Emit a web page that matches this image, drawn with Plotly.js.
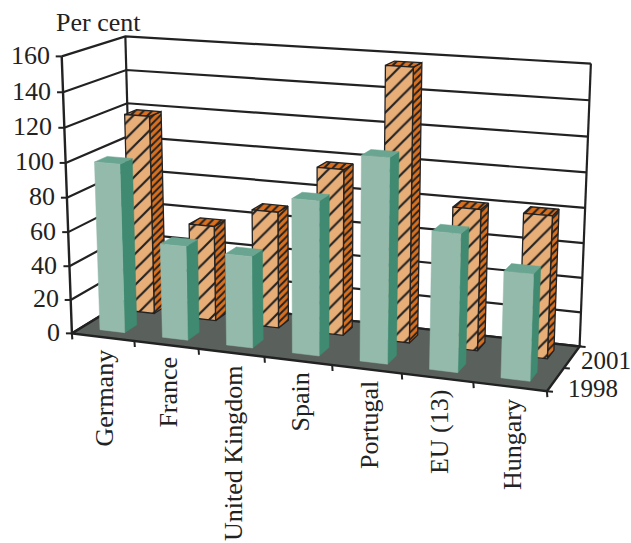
<!DOCTYPE html>
<html>
<head>
<meta charset="utf-8">
<script src="https://cdn.plot.ly/plotly-3.0.1.min.js"></script>
<style>html,body{margin:0;padding:0;background:#fff}#chart{width:631px;height:543px}</style>
</head>
<body>
<div id="chart"></div>
<script>
// Per cent values by country for the two survey years
const countries = ["Germany", "France", "United Kingdom", "Spain", "Portugal", "EU (13)", "Hungary"];
const years = ["1998", "2001"];
const values1998 = [99, 55, 53, 88, 115, 77, 59];
const values2001 = [119, 57, 69, 97, 157, 81, 81];
const valueTicks = [0, 20, 40, 60, 80, 100, 120, 140, 160];
const valueMax = 160;

// Camera calibration: box coordinates [u, v, h] and where they land on the page
const calibration = [
  [0,0,0,73,332],[1/7,0,0,134,340],[2/7,0,0,199,348],[3/7,0,0,264,357],[4/7,0,0,332,365],
  [5/7,0,0,401,374],[6/7,0,0,473,383],[1,0,0,548,393],
  [0,0,.25,70,266],[0,0,.5,67,197],[0,0,.75,64,128],[0,0,1,61,57],
  [0,1,0,132,300],[0,1,.5,129,169],[0,1,.75,127,102],[0,1,1,126,36],
  [1,1,0,579,344],[1,1,.25,583,277],[1,1,.5,585,207],[1,1,.75,588,137],[1,1,1,591,65]
];

// Least-squares fit of a projective camera x = (a·p)/(w·p)
function fitCamera(rows) {
  const n = 11, A = Array.from({length:n}, () => new Array(n + 1).fill(0));
  const add = (r, t) => {
    for (let i = 0; i < n; i++) {
      for (let j = 0; j < n; j++) A[i][j] += r[i] * r[j];
      A[i][n] += r[i] * t;
    }
  };
  rows.forEach(([u, v, h, x, y]) => {
    add([1,u,v,h,0,0,0,0,-x*u,-x*v,-x*h], x);
    add([0,0,0,0,1,u,v,h,-y*u,-y*v,-y*h], y);
  });
  for (let c = 0; c < n; c++) {
    let p = c;
    for (let r = c + 1; r < n; r++) if (Math.abs(A[r][c]) > Math.abs(A[p][c])) p = r;
    [A[c], A[p]] = [A[p], A[c]];
    for (let r = 0; r < n; r++) {
      if (r === c) continue;
      const f = A[r][c] / A[c][c];
      for (let k = c; k <= n; k++) A[r][k] -= f * A[c][k];
    }
  }
  return A.map((row, i) => row[n] / row[i]);
}
const cam = fitCamera(calibration);
function project(u, v, h) {
  const w = 1 + cam[8]*u + cam[9]*v + cam[10]*h;
  return [(cam[0] + cam[1]*u + cam[2]*v + cam[3]*h) / w,
          (cam[4] + cam[5]*u + cam[6]*v + cam[7]*h) / w];
}

// Path helpers: each path is appended to x/y arrays, separated by gaps
function pathSet() { return {x: [], y: []}; }
function addPath(set, pts, close) {
  pts.forEach(p => { set.x.push(p[0]); set.y.push(p[1]); });
  if (close) { set.x.push(pts[0][0]); set.y.push(pts[0][1]); }
  set.x.push(null); set.y.push(null);
}
const nCat = countries.length, gap = 0.3;

function barFaces(vals, row) {
  const front = pathSet(), side = pathSet(), top = pathSet();
  const v0 = (row + gap) / years.length, v1 = (row + 1 - gap) / years.length;
  vals.forEach((val, i) => {
    const u0 = (i + gap) / nCat, u1 = (i + 1 - gap) / nCat, h = val / valueMax;
    addPath(front, [project(u0,v0,0), project(u1,v0,0), project(u1,v0,h), project(u0,v0,h)], true);
    addPath(side,  [project(u1,v0,0), project(u1,v1,0), project(u1,v1,h), project(u1,v0,h)], true);
    addPath(top,   [project(u0,v0,h), project(u1,v0,h), project(u1,v1,h), project(u0,v1,h)], true);
  });
  return {front, side, top};
}

// Walls, gridlines and axis frame
const grid = pathSet(), frame = pathSet(), ticks = pathSet(), floor = pathSet();
valueTicks.forEach(t => {
  const h = t / valueMax;
  addPath(grid, [project(0,0,h), project(0,1,h), project(1,1,h)]);
  const p = project(0,0,h);
  addPath(ticks, [[p[0]-6, p[1]], p]);
});
addPath(grid, [project(0,1,0), project(0,1,1)]);
addPath(grid, [project(1,1,0), project(1,1,1)]);
addPath(floor, [project(0,0,0), project(1,0,0), project(1,1,0), project(0,1,0)], true);
addPath(frame, [project(0,0,1), project(0,0,0), project(1,0,0), project(1,1,0), project(0,1,0), project(0,0,0)]);
for (let i = 0; i <= nCat; i++) {
  const p = project(i / nCat, 0, 0);
  addPath(ticks, [p, [p[0]+0.4, p[1]+6]]);
}
for (let r = 0; r <= years.length; r++) {
  const p = project(1, r / years.length, 0);
  addPath(ticks, [p, [p[0]+6, p[1]+0.6]]);
}

const ink = "#222222";
const line = (s, width) => ({x: s.x, y: s.y, mode: "lines", line: {color: ink, width}, hoverinfo: "skip"});
const flat = (s, color) => ({x: s.x, y: s.y, mode: "lines", fill: "toself", fillcolor: color,
  line: {color, width: 0.5}, hoverinfo: "skip"});
const hatched = (s, bg, size, solidity) => ({x: s.x, y: s.y, mode: "lines", fill: "toself", fillcolor: bg,
  fillpattern: {shape: "/", fgcolor: ink, bgcolor: bg, size, solidity},
  line: {color: ink, width: 1.3}, hoverinfo: "skip"});

const back = barFaces(values2001, 1), fore = barFaces(values1998, 0);
const traces = [
  line(grid, 2.2),
  flat(floor, "#5a605c"),
  line(frame, 2.4),
  line(ticks, 2),
  hatched(back.side, "#d9701f", 5, 0.4),
  hatched(back.top, "#d9701f", 6, 0.35),
  hatched(back.front, "#e8ae78", 11, 0.2),
  flat(fore.side, "#3f8a70"),
  flat(fore.top, "#69a590"),
  flat(fore.front, "#94baac")
];

// All lettering placed through the same camera
const font = {family: "Liberation Serif, Times New Roman, serif", size: 26, color: ink};
const yearFont = Object.assign({}, font, {size: 25});
const annotations = [];
const note = (text, x, y, extra) => annotations.push(Object.assign(
  {text, x, y, xref: "x", yref: "y", showarrow: false, font, borderpad: 0}, extra));

valueTicks.forEach(t => {
  const p = project(0, 0, t / valueMax);
  note(String(t), p[0] - 11, p[1] - 1, {xanchor: "right", yanchor: "middle"});
});
countries.forEach((c, i) => {
  const p = project((i + 0.5) / nCat, 0, 0);
  note(c, p[0] + 2, p[1] + 11, {textangle: -90, xanchor: "center", yanchor: "top"});
});
years.forEach((y, r) => {
  const p = project(1, (r + 0.5) / years.length, 0);
  note(y, p[0] + 11 - 3 * r, p[1] + 9 - 6 * r, {xanchor: "left", yanchor: "middle", font: yearFont});
});
note("Per cent", 55, 22, {xanchor: "left", yanchor: "middle"});

const hidden = {visible: false, fixedrange: true};
Plotly.newPlot("chart", traces, {
  width: 631, height: 543,
  margin: {l: 0, r: 0, t: 0, b: 0},
  paper_bgcolor: "#ffffff", plot_bgcolor: "#ffffff",
  showlegend: false,
  xaxis: Object.assign({range: [0, 631]}, hidden),
  yaxis: Object.assign({range: [543, 0]}, hidden),
  annotations
}, {displayModeBar: false, staticPlot: true});
</script>
</body>
</html>
